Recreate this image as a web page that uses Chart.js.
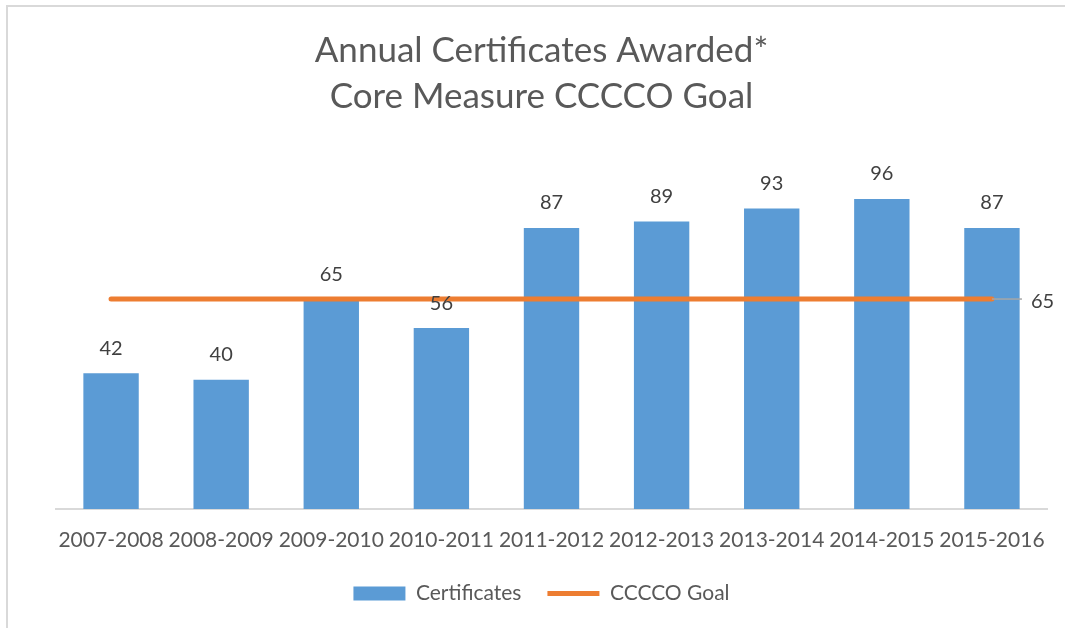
<!DOCTYPE html>
<html lang="en">
<head>
    <meta charset="UTF-8">
    <title>Annual Certificates Awarded</title>
    <script src="https://cdn.jsdelivr.net/npm/chart.js"></script>
    <style>
        html, body {
            margin: 0;
            padding: 0;
            background: #ffffff;
            overflow: hidden;
        }

        #chartBox {
            width: 1065px;
            height: 628px;
        }
    </style>
</head>
<body>
<div id="chartBox">
    <canvas id="certCanvas"></canvas>
</div>

<script>
    // data
    const years = ['2007-2008', '2008-2009', '2009-2010', '2010-2011', '2011-2012',
        '2012-2013', '2013-2014', '2014-2015', '2015-2016'];
    const certificates = [42, 40, 65, 56, 87, 89, 93, 96, 87];
    const goal = [65, 65, 65, 65, 65, 65, 65, 65, 65];

    const fontName = 'Lato, "Open Sans", sans-serif';

    // light grey frame round the chart (only left and top edges are in view)
    const framePlugin = {
        id: 'frame',
        beforeDraw(chart) {
            const ctx = chart.ctx;
            ctx.save();
            ctx.strokeStyle = '#d9d9d9';
            ctx.lineWidth = 2;
            ctx.beginPath();
            ctx.moveTo(7, chart.height);
            ctx.lineTo(7, 6);
            ctx.lineTo(chart.width, 6);
            ctx.stroke();
            ctx.restore();
        }
    };

    // value labels above the bars, and the single label at the end of the goal line
    const valueLabels = {
        id: 'valueLabels',
        afterDatasetsDraw(chart) {
            const ctx = chart.ctx;
            ctx.save();
            ctx.font = '20px ' + fontName;
            ctx.fillStyle = '#404040';
            ctx.textAlign = 'center';
            ctx.textBaseline = 'middle';

            const bars = chart.getDatasetMeta(0).data;
            bars.forEach((bar, i) => {
                ctx.fillText(certificates[i], bar.x, bar.y - 25);
            });

            const pts = chart.getDatasetMeta(1).data;
            const last = pts[pts.length - 1];
            ctx.strokeStyle = '#a6a6a6';
            ctx.lineWidth = 1.5;
            ctx.beginPath();
            ctx.moveTo(last.x, last.y);
            ctx.lineTo(last.x + 30, last.y);
            ctx.stroke();
            ctx.textAlign = 'left';
            ctx.fillText(goal[goal.length - 1], last.x + 39, last.y + 2);
            ctx.restore();
        }
    };

    const ctxCert = document.getElementById('certCanvas').getContext('2d');
    const chartCert = new Chart(ctxCert, {
        data: {
            labels: years,
            datasets: [{
                type: 'bar',
                label: 'Certificates',
                data: certificates,
                backgroundColor: '#5b9bd5',
                borderWidth: 0,
                categoryPercentage: 1,
                barPercentage: 0.503,
                pointStyle: 'rect',
                order: 2
            }, {
                type: 'line',
                label: 'CCCCO Goal',
                data: goal,
                borderColor: '#ed7d31',
                backgroundColor: '#ed7d31',
                borderWidth: 5,
                borderCapStyle: 'round',
                pointRadius: 0,
                pointStyle: 'line',
                order: 1
            }]
        },
        plugins: [framePlugin, valueLabels],
        options: {
            responsive: true,
            maintainAspectRatio: false,
            animation: false,
            layout: {
                padding: {left: 20, right: 2, top: 0, bottom: 14}
            },
            plugins: {
                title: {
                    display: true,
                    text: ['Annual Certificates Awarded*', 'Core Measure CCCCO Goal'],
                    color: '#595959',
                    font: {family: fontName, size: 35, weight: 'normal', lineHeight: '46px'},
                    padding: {top: 28, bottom: 66}
                },
                legend: {
                    position: 'bottom',
                    labels: {
                        usePointStyle: true,
                        pointStyleWidth: 52,
                        boxHeight: 14,
                        padding: 26,
                        color: '#595959',
                        font: {family: fontName, size: 21},
                        // keep dataset order, not draw order
                        sort: (a, b) => a.datasetIndex - b.datasetIndex
                    }
                },
                tooltip: {enabled: false}
            },
            scales: {
                x: {
                    grid: {display: false},
                    border: {color: '#d9d9d9', width: 2},
                    ticks: {
                        color: '#595959',
                        font: {family: fontName, size: 21},
                        autoSkip: false,
                        maxRotation: 0,
                        padding: 11
                    },
                    afterFit(scale) {
                        scale.height = 48;
                    }
                },
                y: {
                    min: 0,
                    max: 100,
                    grid: {display: false},
                    border: {display: false},
                    ticks: {display: false},
                    afterFit(scale) {
                        scale.width = 36;
                    }
                },
                // empty axis on the right, only to leave room for the "65" label
                y2: {
                    position: 'right',
                    grid: {display: false},
                    border: {display: false},
                    ticks: {display: false},
                    afterFit(scale) {
                        scale.width = 16;
                    }
                }
            }
        }
    });
</script>
</body>
</html>
